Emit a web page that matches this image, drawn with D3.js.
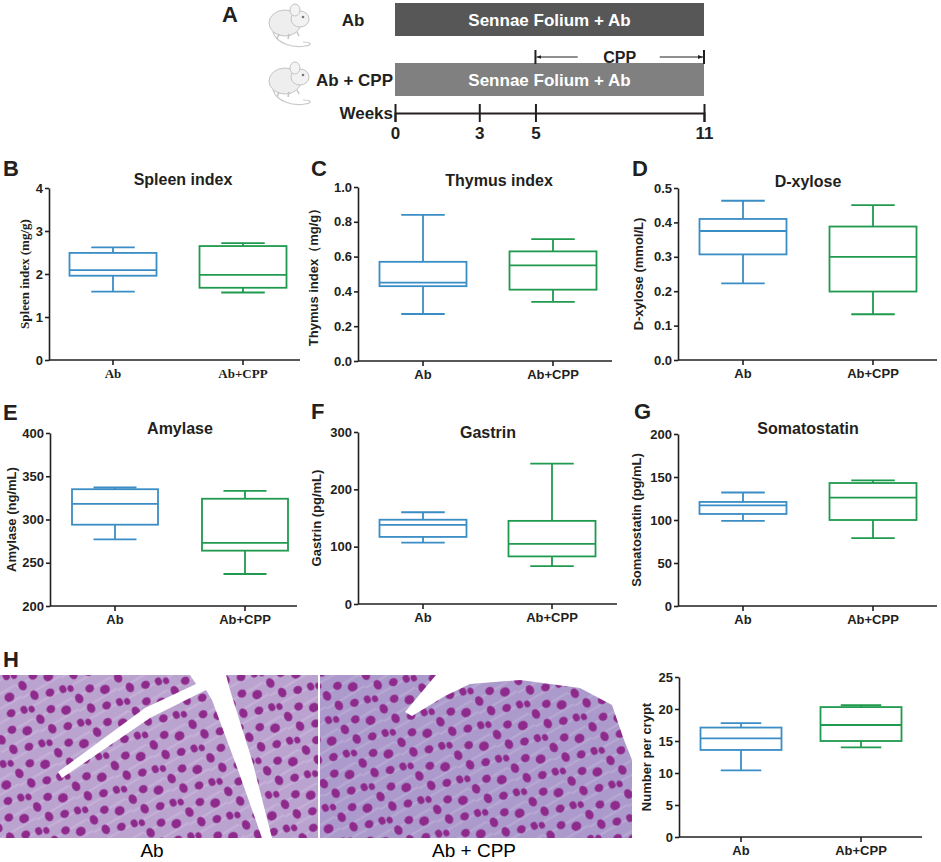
<!DOCTYPE html>
<html>
<head>
<meta charset="utf-8">
<script src="https://cdn.jsdelivr.net/npm/d3@7"></script>
<style>
body { margin: 0; background: #fff; }
svg { display: block; font-family: "Liberation Sans", Arial, sans-serif; }
</style>
</head>
<body>
<svg id="fig" width="941" height="862"></svg>
<script>
// ---- data ----
const groups = ["Ab", "Ab+CPP"];

// five-number summaries: min, q1, median, q3, max
const spleenAb = [1.59, 1.96, 2.09, 2.49, 2.62];
const spleenCpp = [1.57, 1.68, 1.98, 2.65, 2.72];
const thymusAb = [0.27, 0.43, 0.45, 0.57, 0.84];
const thymusCpp = [0.34, 0.41, 0.55, 0.63, 0.70];
const xyloseAb = [0.223, 0.307, 0.375, 0.410, 0.463];
const xyloseCpp = [0.133, 0.199, 0.300, 0.388, 0.450];
const amylaseAb = [277, 294, 318, 335, 337];
const amylaseCpp = [237, 264, 273, 324, 333];
const gastrinAb = [107, 117, 138, 147, 160];
const gastrinCpp = [66, 83, 105, 145, 245];
const somatoAb = [99, 107, 117, 121, 132];
const somatoCpp = [79, 100, 126, 143, 146];
const cryptAb = [10.4, 13.6, 15.4, 17.1, 17.8];
const cryptCpp = [14.0, 15.0, 17.5, 20.3, 20.6];

// timeline
const weekTicks = [0, 3, 5, 11];
const treatmentWeeks = [0, 11];
const cppWeeks = [5, 11];
const rowLabels = ["Ab", "Ab + CPP"];
const barText = "Sennae Folium + Ab";

const blue = "#3a8dc5";
const green = "#1f9a4e";
const ink = "#231f20";

const svg = d3.select("#fig");

// ---- panel A ----
const wx = d3.scaleLinear().domain([0, 11]).range([395, 704]);
const rowTop = [3, 63];
const rowFill = ["#575757", "#808080"];

function drawMouse(tx, ty) {
    const m = svg.append("g").attr("transform", "translate(" + tx + "," + ty + ")");
    m.append("path")
        .attr("d", "M10,30 C14,42 30,46 42,44 C50,43 48,40 40,40")
        .attr("fill", "none")
        .attr("stroke", "#c9c9c9")
        .attr("stroke-width", 1.2);
    m.append("ellipse")
        .attr("cx", 22).attr("cy", 21).attr("rx", 16).attr("ry", 13)
        .attr("fill", "#eeeeee").attr("stroke", "#c4c4c4");
    m.append("ellipse")
        .attr("cx", 37).attr("cy", 17).attr("rx", 9).attr("ry", 8)
        .attr("fill", "#f2f2f2").attr("stroke", "#c4c4c4");
    m.append("ellipse")
        .attr("cx", 32).attr("cy", 8).attr("rx", 5).attr("ry", 6)
        .attr("fill", "#f4f4f4").attr("stroke", "#c4c4c4");
    m.append("circle")
        .attr("cx", 40).attr("cy", 15).attr("r", 1.3)
        .attr("fill", "#777");
    m.append("path")
        .attr("d", "M26,32 L25,37 M34,30 L36,34 M16,32 L14,37")
        .attr("stroke", "#c4c4c4").attr("stroke-width", 1.5);
}
drawMouse(263, 2);
drawMouse(263, 60);

svg.append("text")
    .attr("x", 222).attr("y", 22)
    .attr("font-size", 22).attr("font-weight", "bold").attr("fill", ink)
    .text("A");

svg.selectAll("rect.treat")
    .data(rowLabels)
    .join("rect")
    .attr("class", "treat")
    .attr("x", wx(treatmentWeeks[0]))
    .attr("y", (d, i) => rowTop[i])
    .attr("width", wx(treatmentWeeks[1]) - wx(treatmentWeeks[0]))
    .attr("height", 33)
    .attr("fill", (d, i) => rowFill[i]);

svg.selectAll("text.treat")
    .data(rowLabels)
    .join("text")
    .attr("class", "treat")
    .attr("x", (wx(treatmentWeeks[0]) + wx(treatmentWeeks[1])) / 2)
    .attr("y", (d, i) => rowTop[i] + 23)
    .attr("text-anchor", "middle")
    .attr("font-size", 17).attr("font-weight", "bold").attr("fill", "#fff")
    .text(barText);

svg.selectAll("text.rowlab")
    .data(rowLabels)
    .join("text")
    .attr("class", "rowlab")
    .attr("x", (d, i) => i == 0 ? 353 : 393)
    .attr("y", (d, i) => rowTop[i] + 23)
    .attr("text-anchor", (d, i) => i == 0 ? "middle" : "end")
    .attr("font-size", 17).attr("font-weight", "bold").attr("fill", ink)
    .text(d => d);

// CPP bracket
const defs = svg.append("defs");
defs.append("marker")
    .attr("id", "arr")
    .attr("viewBox", "0 0 10 10")
    .attr("refX", 10).attr("refY", 5)
    .attr("markerWidth", 5).attr("markerHeight", 5)
    .attr("orient", "auto")
    .append("path")
    .attr("d", "M0,1 L10,5 L0,9 Z")
    .attr("fill", ink);

const bY = 57;
const cppMid = (wx(cppWeeks[0]) + wx(cppWeeks[1])) / 2;
svg.append("line")
    .attr("x1", cppMid - 42).attr("x2", wx(cppWeeks[0]) + 1)
    .attr("y1", bY).attr("y2", bY)
    .attr("stroke", ink).attr("stroke-width", 1)
    .attr("marker-end", "url(#arr)");
svg.append("line")
    .attr("x1", cppMid + 40).attr("x2", wx(cppWeeks[1]) - 1)
    .attr("y1", bY).attr("y2", bY)
    .attr("stroke", ink).attr("stroke-width", 1)
    .attr("marker-end", "url(#arr)");
svg.selectAll("line.cppend")
    .data(cppWeeks)
    .join("line")
    .attr("class", "cppend")
    .attr("x1", d => wx(d)).attr("x2", d => wx(d))
    .attr("y1", bY - 7).attr("y2", bY + 7)
    .attr("stroke", ink).attr("stroke-width", 2);
svg.append("text")
    .attr("x", cppMid).attr("y", bY + 6)
    .attr("text-anchor", "middle")
    .attr("font-size", 16).attr("font-weight", "bold").attr("fill", ink)
    .text("CPP");

// weeks axis
const wAxisY = 113;
const wAxis = svg.append("g")
    .attr("transform", "translate(0," + wAxisY + ")")
    .call(d3.axisBottom(wx).tickValues(weekTicks).tickSizeOuter(0).tickSize(9).tickPadding(5));
wAxis.select(".domain").attr("stroke", ink).attr("stroke-width", 2);
wAxis.selectAll(".tick line").attr("y1", -9).attr("stroke", ink).attr("stroke-width", 2);
wAxis.selectAll(".tick text")
    .attr("font-size", 17).attr("font-weight", "bold").attr("fill", ink)
    .attr("font-family", "Liberation Sans, Arial, sans-serif");
svg.append("text")
    .attr("x", 393).attr("y", wAxisY + 6)
    .attr("text-anchor", "end")
    .attr("font-size", 17).attr("font-weight", "bold").attr("fill", ink)
    .text("Weeks");

// ---- box plot panels ----
function boxPanel(p) {
    const g = svg.append("g");
    const y = d3.scaleLinear().domain(p.domain).range([p.bottom, p.top]);
    const x = d3.scalePoint().domain(groups).range(p.centers);
    const fam = p.serif ? "Liberation Serif, Times New Roman, serif" : "Liberation Sans, Arial, sans-serif";

    const yAx = g.append("g")
        .attr("transform", "translate(" + p.left + ",0)")
        .call(d3.axisLeft(y).tickValues(p.ticks).tickSize(4).tickSizeOuter(0).tickPadding(2).tickFormat(p.format));
    yAx.select(".domain").attr("stroke", ink).attr("stroke-width", 1.6);
    yAx.selectAll(".tick line").attr("stroke", ink).attr("stroke-width", 1.6);
    yAx.selectAll(".tick text")
        .attr("font-size", 13).attr("font-weight", "bold").attr("fill", ink)
        .attr("font-family", "Liberation Sans, Arial, sans-serif");

    g.append("line")
        .attr("x1", p.left).attr("x2", p.right)
        .attr("y1", p.bottom).attr("y2", p.bottom)
        .attr("stroke", ink).attr("stroke-width", 1.6);
    g.selectAll("line.xt")
        .data(groups)
        .join("line")
        .attr("class", "xt")
        .attr("x1", d => x(d)).attr("x2", d => x(d))
        .attr("y1", p.bottom).attr("y2", p.bottom + 5)
        .attr("stroke", ink).attr("stroke-width", 1.6);
    g.selectAll("text.xl")
        .data(groups)
        .join("text")
        .attr("class", "xl")
        .attr("x", d => x(d)).attr("y", p.bottom + 18)
        .attr("text-anchor", "middle")
        .attr("font-family", fam)
        .attr("font-size", 13).attr("font-weight", "bold").attr("fill", ink)
        .text(d => d);

    g.append("text")
        .attr("transform", "translate(" + p.ylabX + "," + (p.top + p.bottom) / 2 + ") rotate(-90)")
        .attr("text-anchor", "middle")
        .attr("dominant-baseline", "middle")
        .attr("font-family", fam)
        .attr("font-size", 13).attr("font-weight", "bold").attr("fill", ink)
        .text(p.ylabel);

    if (p.title) {
        g.append("text")
            .attr("x", p.title[1]).attr("y", p.title[2])
            .attr("text-anchor", "middle")
            .attr("font-size", 16).attr("font-weight", "bold").attr("fill", ink)
            .text(p.title[0]);
    }
    if (p.letter) {
        g.append("text")
            .attr("x", p.letter[1]).attr("y", p.letter[2])
            .attr("font-size", 22).attr("font-weight", "bold").attr("fill", ink)
            .text(p.letter[0]);
    }

    const boxes = [
        { group: groups[0], v: p.values[0], color: blue },
        { group: groups[1], v: p.values[1], color: green }
    ];
    const bw = p.boxW;
    const bg = g.selectAll("g.box")
        .data(boxes)
        .join("g")
        .attr("class", "box")
        .attr("fill", "none")
        .attr("stroke-width", 1.8)
        .attr("stroke", d => d.color);
    bg.append("line")
        .attr("x1", d => x(d.group)).attr("x2", d => x(d.group))
        .attr("y1", d => y(d.v[0])).attr("y2", d => y(d.v[1]));
    bg.append("line")
        .attr("x1", d => x(d.group)).attr("x2", d => x(d.group))
        .attr("y1", d => y(d.v[3])).attr("y2", d => y(d.v[4]));
    bg.selectAll("line.cap")
        .data(d => [d.v[0], d.v[4]].map(v => ({ group: d.group, v: v })))
        .join("line")
        .attr("class", "cap")
        .attr("x1", d => x(d.group) - bw / 4).attr("x2", d => x(d.group) + bw / 4)
        .attr("y1", d => y(d.v)).attr("y2", d => y(d.v));
    bg.append("rect")
        .attr("x", d => x(d.group) - bw / 2)
        .attr("y", d => y(d.v[3]))
        .attr("width", bw)
        .attr("height", d => y(d.v[1]) - y(d.v[3]))
        .attr("fill", "#fff");
    bg.append("line")
        .attr("x1", d => x(d.group) - bw / 2).attr("x2", d => x(d.group) + bw / 2)
        .attr("y1", d => y(d.v[2])).attr("y2", d => y(d.v[2]));
}

const int = d3.format("d");
const dec = d3.format(".1f");

boxPanel({ left: 49, right: 300, top: 188, bottom: 360, centers: [113, 243], boxW: 87,
    domain: [0, 4], ticks: [0, 1, 2, 3, 4], format: int, serif: true,
    values: [spleenAb, spleenCpp], ylabel: "Spleen index (mg/g)", ylabX: 26,
    title: ["Spleen index", 183, 185], letter: ["B", 3, 176] });
boxPanel({ left: 358, right: 612, top: 187, bottom: 361, centers: [423, 553], boxW: 87,
    domain: [0, 1], ticks: [0, 0.2, 0.4, 0.6, 0.8, 1.0], format: dec,
    values: [thymusAb, thymusCpp], ylabel: "Thymus index\uFF08mg/g\uFF09", ylabX: 315,
    title: ["Thymus index", 499, 186], letter: ["C", 311, 176] });
boxPanel({ left: 678, right: 937, top: 188, bottom: 360, centers: [743, 873], boxW: 87,
    domain: [0, 0.5], ticks: [0, 0.1, 0.2, 0.3, 0.4, 0.5], format: dec,
    values: [xyloseAb, xyloseCpp], ylabel: "D-xylose (mmol/L)", ylabX: 640,
    title: ["D-xylose", 808, 187], letter: ["D", 632, 176] });
boxPanel({ left: 50, right: 297, top: 433, bottom: 606, centers: [115, 245], boxW: 86,
    domain: [200, 400], ticks: [200, 250, 300, 350, 400], format: int,
    values: [amylaseAb, amylaseCpp], ylabel: "Amylase (ng/mL)", ylabX: 13,
    title: ["Amylase", 180, 434], letter: ["E", 3, 420] });
boxPanel({ left: 358, right: 617, top: 432, bottom: 604, centers: [423, 552], boxW: 87,
    domain: [0, 300], ticks: [0, 100, 200, 300], format: int,
    values: [gastrinAb, gastrinCpp], ylabel: "Gastrin (pg/mL)", ylabX: 318,
    title: ["Gastrin", 488, 438], letter: ["F", 311, 419] });
boxPanel({ left: 678, right: 937, top: 434, bottom: 606, centers: [743, 873], boxW: 87,
    domain: [0, 200], ticks: [0, 50, 100, 150, 200], format: int,
    values: [somatoAb, somatoCpp], ylabel: "Somatostatin (pg/mL)", ylabX: 638,
    title: ["Somatostatin", 808, 434], letter: ["G", 634, 419] });
boxPanel({ left: 679, right: 922, top: 677, bottom: 837, centers: [741, 861], boxW: 81,
    domain: [0, 25], ticks: [0, 5, 10, 15, 20, 25], format: int,
    values: [cryptAb, cryptCpp], ylabel: "Number per crypt", ylabX: 648 });

// ---- panel H histology (stylised PAS-stained tissue) ----
function tissuePattern(id, base, streak) {
    const pt = defs.append("pattern")
        .attr("id", id)
        .attr("patternUnits", "userSpaceOnUse")
        .attr("width", 44).attr("height", 38)
        .attr("patternTransform", "rotate(-28)");
    pt.append("rect").attr("width", 44).attr("height", 38).attr("fill", base);
    pt.append("path")
        .attr("d", "M0,6 L44,4 M0,19 L44,17 M0,31 L44,30")
        .attr("stroke", streak).attr("stroke-width", 2).attr("opacity", 0.4);
    const nuc = [[6, 8, 4, 5], [20, 4, 4.5, 4], [33, 12, 5, 4.5], [12, 22, 4, 5], [27, 27, 4.5, 4], [40, 30, 3.5, 4], [3, 33, 3, 3.5]];
    pt.selectAll("ellipse")
        .data(nuc)
        .join("ellipse")
        .attr("cx", d => d[0]).attr("cy", d => d[1])
        .attr("rx", d => d[2]).attr("ry", d => d[3])
        .attr("fill", "#8f2a8d");
}
tissuePattern("tissueA", "#bba3d0", "#d6c6e2");
tissuePattern("tissueB", "#ab9acb", "#cbbfe0");

const imgTop = 675;
const imgBottom = 838;
svg.append("rect")
    .attr("x", 0).attr("y", imgTop).attr("width", 318).attr("height", imgBottom - imgTop)
    .attr("fill", "url(#tissueA)");
svg.append("rect")
    .attr("x", 320).attr("y", imgTop).attr("width", 312).attr("height", imgBottom - imgTop)
    .attr("fill", "url(#tissueB)");

// gaps in the tissue
svg.append("path")
    .attr("d", "M190,675 L226,675 L230,690 L252,760 L272,838 L262,838 L238,770 L212,700 L206,690 L150,718 L62,778 L58,772 L145,708 L196,684 Z")
    .attr("fill", "#fff");
svg.append("path")
    .attr("d", "M436,675 L632,675 L632,760 L624,740 L612,705 L580,688 L520,680 L470,684 L445,696 L412,716 L405,712 Z")
    .attr("fill", "#fff");

svg.append("text")
    .attr("x", 3).attr("y", 667)
    .attr("font-size", 22).attr("font-weight", "bold").attr("fill", ink)
    .text("H");
svg.selectAll("text.himg")
    .data(["Ab", "Ab + CPP"])
    .join("text")
    .attr("class", "himg")
    .attr("x", (d, i) => i == 0 ? 152 : 474)
    .attr("y", 857)
    .attr("text-anchor", "middle")
    .attr("font-size", 19).attr("fill", "#000")
    .text(d => d);
</script>
</body>
</html>
